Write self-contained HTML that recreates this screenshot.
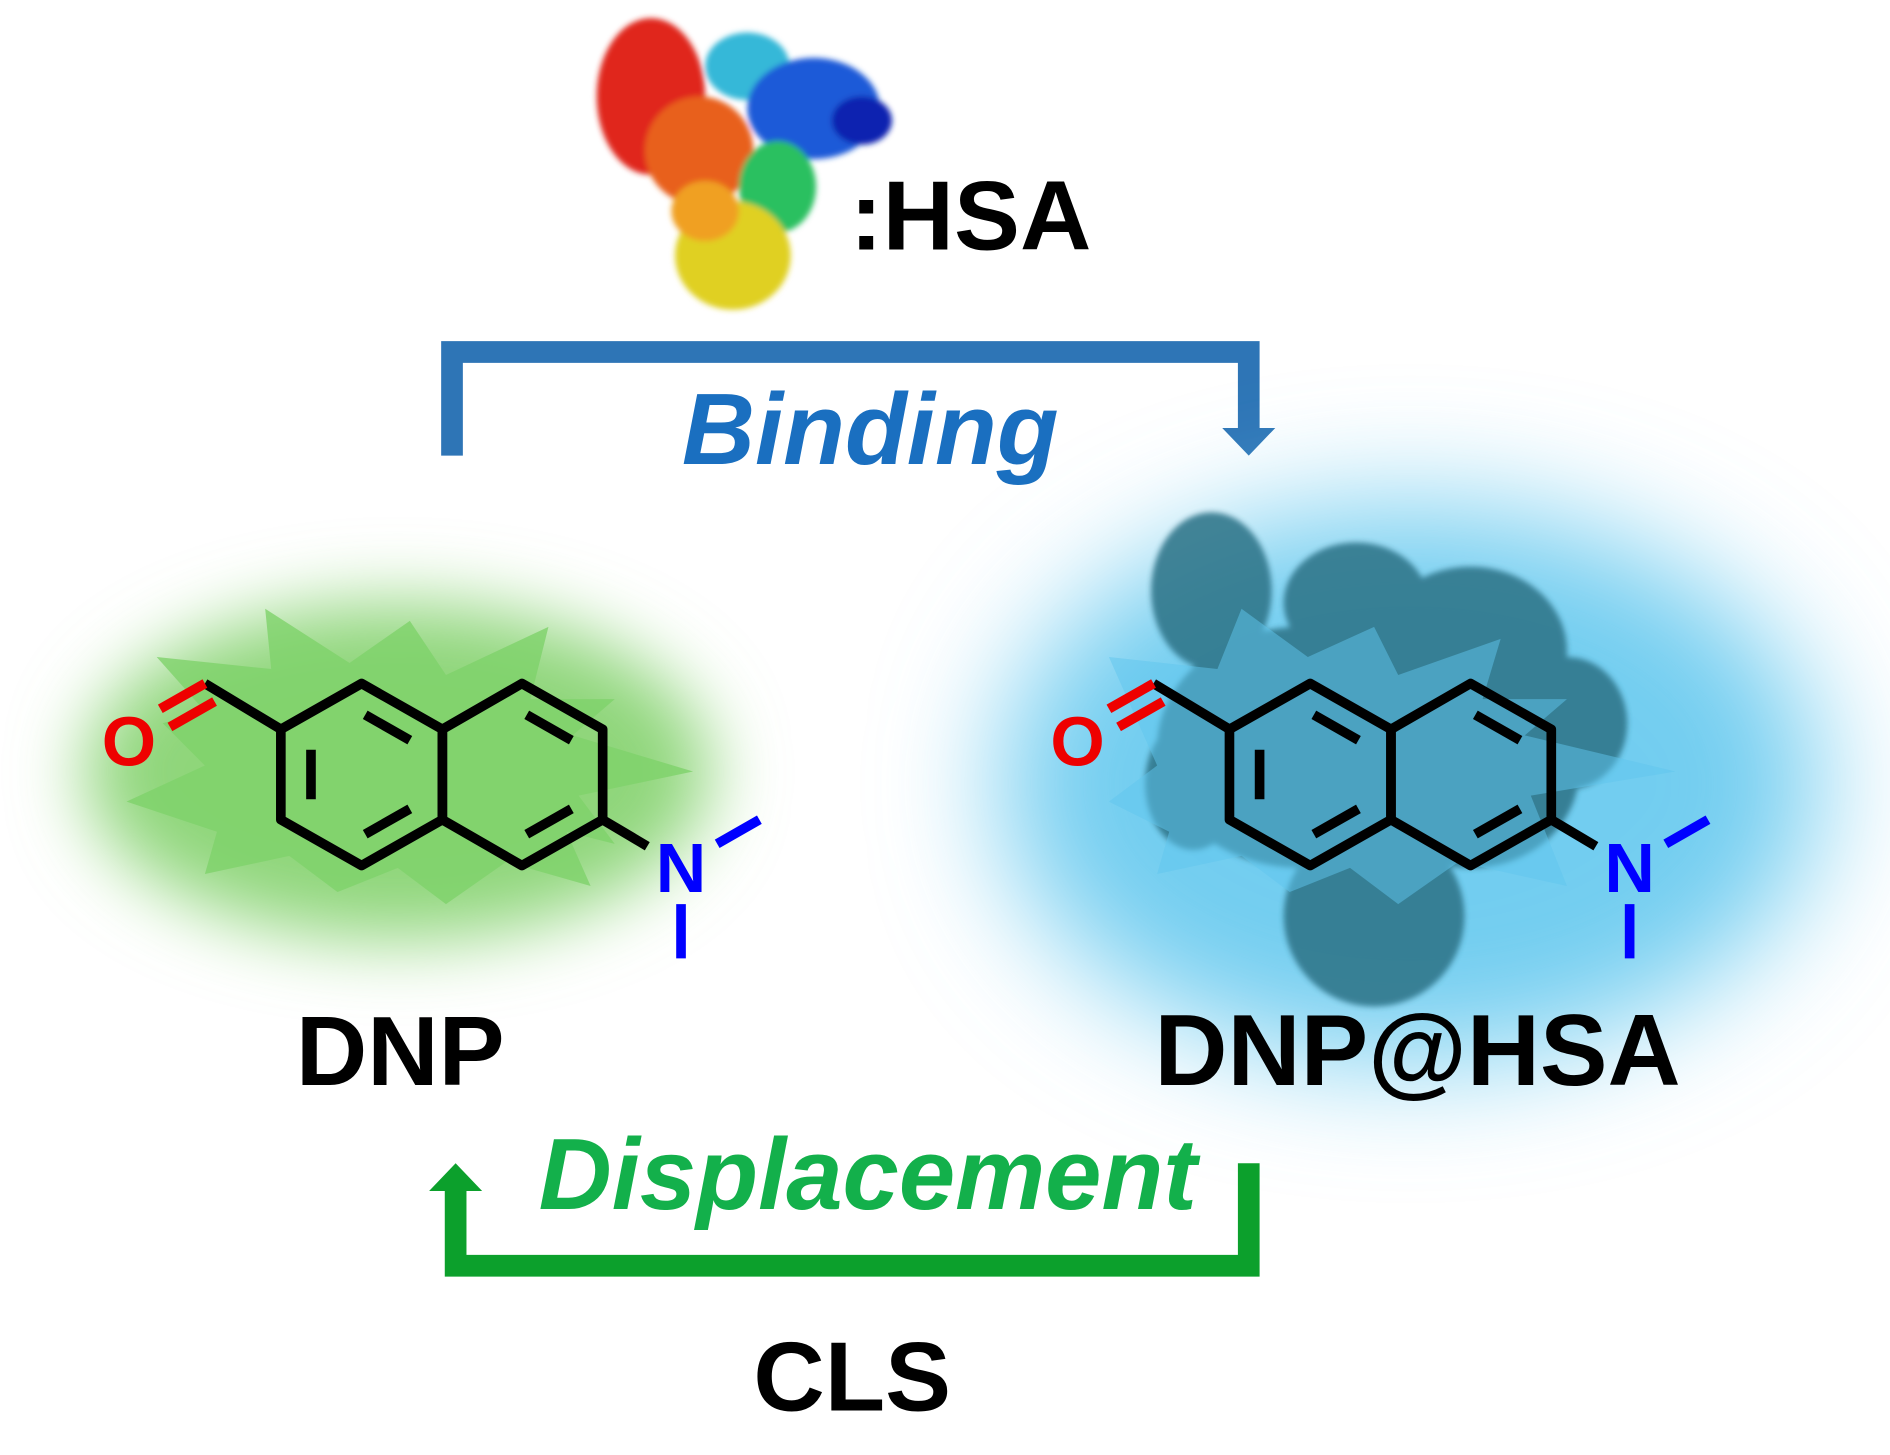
<!DOCTYPE html>
<html><head><meta charset="utf-8"><style>
html,body{margin:0;padding:0;background:#fff;}
svg{display:block;}
text{font-family:"Liberation Sans",Arial,sans-serif;font-weight:bold;}
</style></head><body>
<svg width="1890" height="1455" viewBox="0 0 1568 1207" preserveAspectRatio="none" xmlns="http://www.w3.org/2000/svg">
<defs>
<filter id="b1" x="-50%" y="-50%" width="200%" height="200%"><feGaussianBlur stdDeviation="30"/></filter>
<filter id="b2" x="-50%" y="-50%" width="200%" height="200%"><feGaussianBlur stdDeviation="50"/></filter>
<filter id="b3"><feGaussianBlur stdDeviation="2.5"/></filter>
</defs>
<rect width="1568" height="1207" fill="#fff"/>
<!-- top protein -->
<g filter="url(#b3)">
<ellipse cx="540" cy="80" rx="45" ry="65" fill="#e0261a"/>
<ellipse cx="580" cy="125" rx="45" ry="45" fill="#e8601a"/>
<ellipse cx="620" cy="55" rx="35" ry="28" fill="#35b8d8"/>
<ellipse cx="675" cy="90" rx="55" ry="42" fill="#1a5ad8"/>
<ellipse cx="715" cy="100" rx="25" ry="20" fill="#1020b0"/>
<ellipse cx="645" cy="155" rx="32" ry="38" fill="#2cc060"/>
<ellipse cx="608" cy="212" rx="48" ry="45" fill="#e0d020"/>
<ellipse cx="585" cy="175" rx="28" ry="25" fill="#f0a020"/>
</g>
<text x="705" y="207" font-size="82" fill="#000">:HSA</text>
<!-- binding bracket -->
<polyline points="375,378 375,292 1036,292 1036,358" fill="none" stroke="#2e75b6" stroke-width="18"/>
<polygon points="1014,355 1058,355 1036,378" fill="#2e75b6"/>
<text x="722" y="385" font-size="84" font-style="italic" fill="#1a6fc0" text-anchor="middle">Binding</text>
<!-- glows -->
<ellipse cx="330" cy="640" rx="260" ry="140" fill="#8fd67a" filter="url(#b1)"/>
<ellipse cx="1170" cy="650" rx="340" ry="230" fill="#72cdf0" filter="url(#b2)"/>
<polygon points="130,545 225,555 220,505 290,550 340,515 370,560 455,520 440,580 510,580 475,610 575,640 480,660 510,700 470,690 490,735 420,715 370,750 330,720 280,740 240,710 170,725 180,690 105,665 170,635 135,600 170,590" fill="#7ed26a" opacity="0.8"/>
<!-- right protein silhouette -->
<g fill="#2e7489" opacity="0.88" filter="url(#b3)">
<ellipse cx="1005" cy="490" rx="50" ry="65"/>
<ellipse cx="1125" cy="500" rx="60" ry="50"/>
<ellipse cx="1220" cy="540" rx="80" ry="70"/>
<ellipse cx="1080" cy="620" rx="120" ry="100"/>
<ellipse cx="1220" cy="640" rx="90" ry="80"/>
<ellipse cx="1300" cy="600" rx="50" ry="55"/>
<ellipse cx="1140" cy="760" rx="75" ry="75"/>
<ellipse cx="990" cy="650" rx="40" ry="55"/>
</g>
<polygon points="920,545 1010,555 1030,505 1085,545 1140,520 1160,560 1245,530 1230,580 1300,580 1265,610 1390,640 1270,660 1300,735 1210,715 1160,750 1120,720 1070,740 1030,710 960,725 970,690 920,665 960,635" fill="#5fc6ee" opacity="0.5"/>
<!-- molecules -->
<g id="mol" fill="none" stroke-width="8" stroke-linejoin="round">
<polygon points="233,605 300,567 367,605 367,680 300,718 233,680" stroke="#000"/>
<polygon points="367,605 433,567 500,605 500,680 433,718 367,680" stroke="#000"/>
<line x1="258" y1="622" x2="258" y2="663" stroke="#000"/>
<line x1="303" y1="593" x2="340" y2="614" stroke="#000"/>
<line x1="303" y1="692" x2="340" y2="671" stroke="#000"/>
<line x1="437" y1="593" x2="474" y2="614" stroke="#000"/>
<line x1="437" y1="692" x2="474" y2="671" stroke="#000"/>
<line x1="233" y1="605" x2="170" y2="567" stroke="#000"/>
<line x1="170" y1="567" x2="133" y2="588" stroke="#e00"/>
<line x1="178" y1="582" x2="141" y2="603" stroke="#e00"/>
<line x1="500" y1="680" x2="537" y2="702" stroke="#000"/>
<line x1="595" y1="700" x2="630" y2="680" stroke="#00f"/>
<line x1="565" y1="750" x2="565" y2="795" stroke="#00f"/>
<text x="107" y="635" font-size="58" fill="#e00" stroke="none" text-anchor="middle" font-weight="normal">O</text>
<text x="565" y="740" font-size="58" fill="#00f" stroke="none" text-anchor="middle" font-weight="normal">N</text>
</g>
<use href="#mol" x="787" y="0"/>
<text x="332" y="900" font-size="82" fill="#000" text-anchor="middle">DNP</text>
<text x="1176" y="900" font-size="84" fill="#000" text-anchor="middle">DNP@HSA</text>
<!-- displacement bracket -->
<polyline points="1036,965 1036,1050 378,1050 378,985" fill="none" stroke="#0ca02c" stroke-width="18"/>
<polygon points="356,988 400,988 378,965" fill="#0ca02c"/>
<text x="720" y="1003" font-size="84" font-style="italic" fill="#13b04b" text-anchor="middle">Displacement</text>
<text x="707" y="1170" font-size="82" fill="#000" text-anchor="middle">CLS</text>
</svg>
</body></html>
